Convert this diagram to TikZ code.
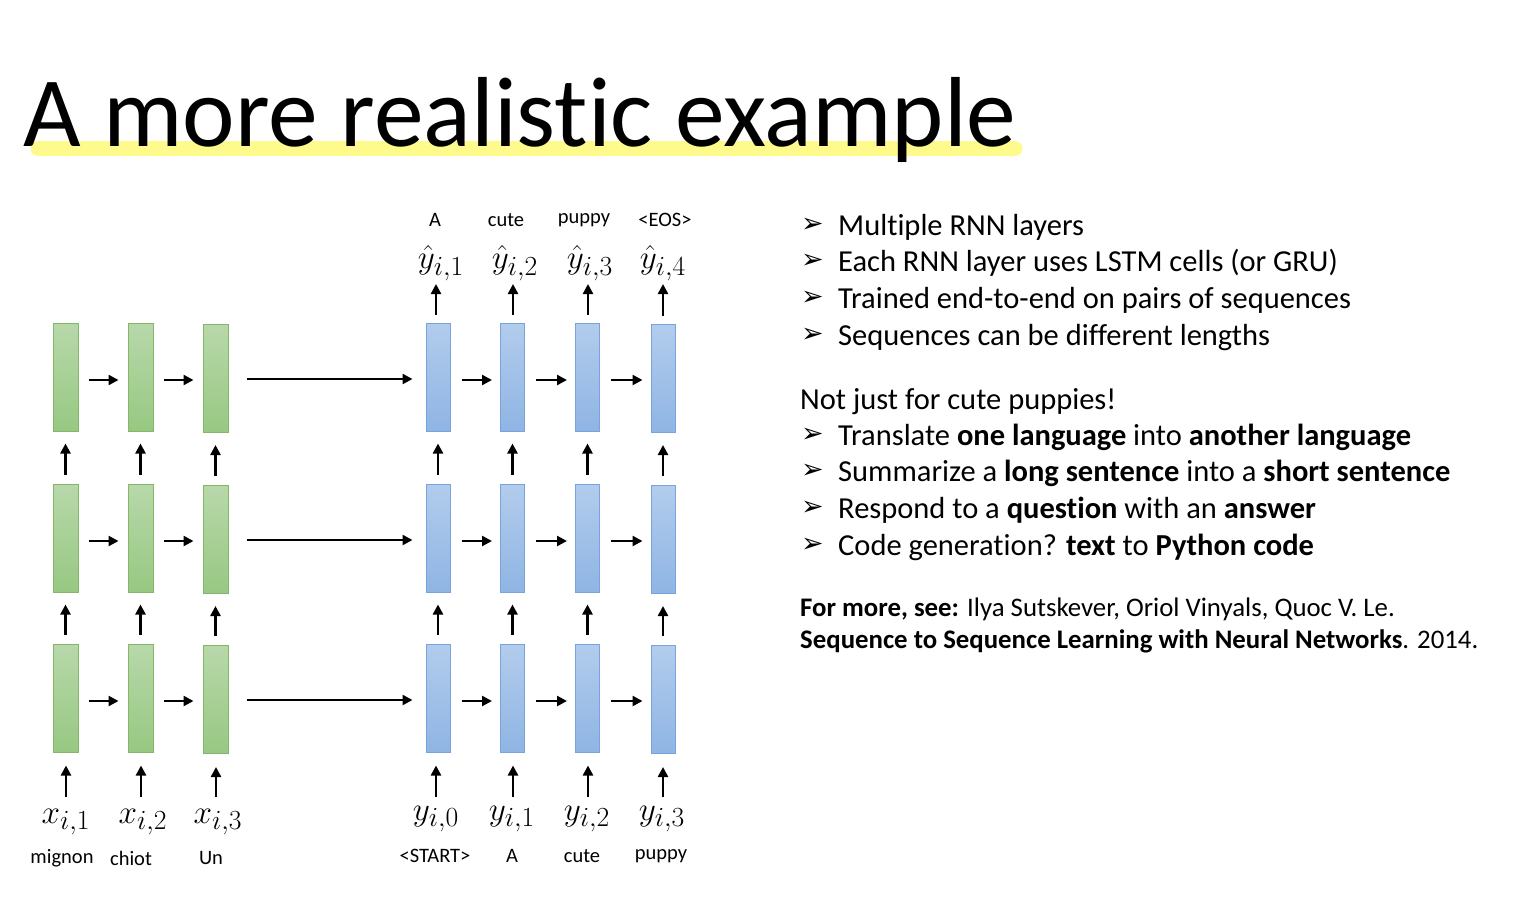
\documentclass[tikz,border=0pt]{standalone}
\usepackage{graphicx}
\usepackage{fontspec}
\setmainfont[Ligatures=NoCommon]{Carlito}
\newfontfamily\dvs{DejaVu Sans}
\usetikzlibrary{arrows.meta}
\DeclareMathSizes{20.74}{20.74}{17.28}{14.4}
\newcommand{\mathlbl}[1]{\scalebox{1.6}{$#1$}}
\definecolor{hl}{RGB}{255,250,140}
\definecolor{gtop}{RGB}{184,216,170}
\definecolor{gbot}{RGB}{151,200,130}
\definecolor{gbrd}{RGB}{130,184,104}
\definecolor{btop}{RGB}{178,204,236}
\definecolor{bbot}{RGB}{143,181,228}
\definecolor{bbrd}{RGB}{120,163,222}
\tikzset{
  gcell/.style={draw=gbrd,line width=1pt,top color=gtop,bottom color=gbot,minimum width=25,minimum height=108,inner sep=0},
  bcell/.style={draw=bbrd,line width=1pt,top color=btop,bottom color=bbot,minimum width=24,minimum height=108,inner sep=0},
  arr/.style={line width=2.4pt,-{Triangle[length=10,width=10]}},
  word/.style={font=\fontsize{20.5}{24}\selectfont,inner sep=0},
  mth/.style={font=\fontsize{20.74}{24}\selectfont,inner sep=0},
  body/.style={font=\fontsize{30.5}{36}\selectfont,anchor=base west,inner sep=0},
  bul/.style={font=\dvs\fontsize{27}{30}\selectfont,anchor=base west,inner sep=0},
  refx/.style={font=\fontsize{26.8}{30}\selectfont,anchor=base west,inner sep=0},
}
\begin{document}
\begin{tikzpicture}[x=1pt,y=-1pt]
\useasboundingbox (0,0) rectangle (1536,914);
% title
\draw[hl,line width=15,line cap=round] (38,148.5) -- (1015,148.5);
\node[anchor=base west,inner sep=0,font=\fontsize{99.5}{110}\selectfont] (title) at (23,146) {A more realistic example};
% cells
\foreach \r/\y in {1/377,2/538,3/698}{
  \node[gcell] (e\r1) at (65.5,\y) {};
  \node[gcell] (e\r2) at (140.5,\y) {};
  \node[gcell] (e\r3) at (215.5,\y+1.5) {};
  \node[bcell] (d\r1) at (438,\y) {};
  \node[bcell] (d\r2) at (512.5,\y) {};
  \node[bcell] (d\r3) at (587.5,\y) {};
  \node[bcell] (d\r4) at (663,\y+1.5) {};
  \draw[arr,shorten <=10,shorten >=9] ([yshift=-3]e\r1.east) -- ([yshift=-3]e\r2.west);
  \draw[arr,shorten <=10,shorten >=9] ([yshift=-3]e\r2.east) -- ([yshift=-3]e\r2.east -| e\r3.west);
  \draw[arr,shorten <=18,shorten >=13] ([yshift=-2]e\r3.east |- e\r1.east) -- ([yshift=-2]d\r1.west);
  \draw[arr,shorten <=11,shorten >=8] ([yshift=-3]d\r1.east) -- ([yshift=-3]d\r2.west);
  \draw[arr,shorten <=11,shorten >=8] ([yshift=-3]d\r2.east) -- ([yshift=-3]d\r3.west);
  \draw[arr,shorten <=11,shorten >=8] ([yshift=-3]d\r3.east) -- ([yshift=-3]d\r3.east -| d\r4.west);
}
% vertical arrows between rows
\foreach \a/\b in {2/1,3/2}{
  \foreach \c in {1,2,3}{
    \draw[arr,shorten <=9,shorten >=12] (e\a\c.north) -- (e\a\c.north |- e\b\c.south);
  }
  \foreach \c in {1,2,3,4}{
    \draw[arr,shorten <=9,shorten >=12] (d\a\c.north) -- (d\a\c.north |- d\b\c.south);
  }
}
% bottom inputs
\foreach \c/\x/\lx/\wx/\w in {1/66/66/62/mignon,2/141/143/131/chiot,3/216/218/211/Un}{
  \coordinate (xi\c) at (\x,797);
  \node[mth] (xl\c) at (\lx,822) {\mathlbl{x_{i,\c}}};
  \node[word] (xw\c) at (\wx,858) {\w};
  \draw[arr,shorten >=13] (xi\c) -- (e3\c.south -| xi\c);
}
\foreach \c/\x/\lx/\wx/\w/\n in {1/436/436/435/{<START>}/0,2/513/512/512/A/1,3/588/587/582/cute/2,4/663/662/661/puppy/3}{
  \coordinate (yi\c) at (\x,797);
  \node[mth] (yl\c) at (\lx,819) {\mathlbl{y_{i,\n}}};
  \node[word] (yw\c) at (\wx,856) {\w};
  \draw[arr,shorten >=13] (yi\c) -- (d3\c.south -| yi\c);
}
% top outputs
\foreach \c/\x/\hx/\wx/\w in {1/436/441/435/A,2/513/515/506/cute,3/588/590/584/puppy,4/663/663/665/{<EOS>}}{
  \coordinate (yo\c) at (\x,284);
  \node[mth] (hl\c) at (\hx,263) {\mathlbl{\hat{y}_{i,\c}}};
  \node[word] (hw\c) at (\wx,220) {\w};
  \draw[arr,shorten <=8] (d1\c.north -| yo\c) -- (yo\c);
}
% right text
\foreach \y/\t [count=\i] in {235/{Multiple RNN layers},271/{Each RNN layer uses LSTM cells (or GRU)},308/{Trained end-to-end on pairs of sequences},345/{Sequences can be different lengths},445/{Translate \textbf{one language} into \textbf{another language}},481/{Summarize a \textbf{long sentence} into a \textbf{short sentence}},518/{Respond to a \textbf{question} with an \textbf{answer}},555/{Code generation? \textbf{text} to \textbf{Python code}}}{
  \node[bul] (b\i) at (801,\y-3) {➢};
  \node[body] (t\i) at (838,\y) {\t};
}
\node[body] (nj) at (800,409) {Not just for cute puppies!};
\node[refx] (r1) at (800,616) {\textbf{For more, see:} Ilya Sutskever, Oriol Vinyals, Quoc V. Le.};
\node[refx] (r2) at (800,648) {\textbf{Sequence to Sequence Learning with Neural Networks}. 2014.};
\end{tikzpicture}
\end{document}
